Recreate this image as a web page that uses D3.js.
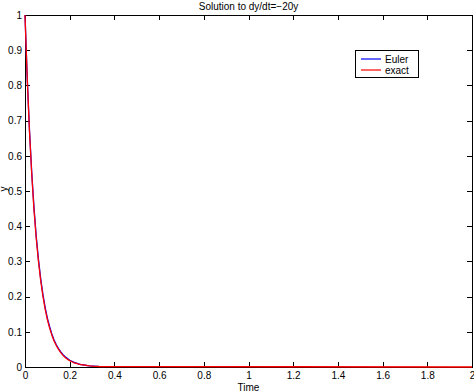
<!DOCTYPE html>
<html>
<head>
<meta charset="utf-8">
<script src="https://cdn.jsdelivr.net/npm/d3@7"></script>
<style>
  body { margin: 0; background: #fff; }
  svg { display: block; font-family: "Liberation Sans", Arial, sans-serif; }
  .c-axis path, .c-axis line { stroke: #000; shape-rendering: crispEdges; }
  .c-axis text { font-size: 10px; fill: #000; }
</style>
</head>
<body>
<div id="chart"></div>
<script>
// values
const exactT = [0, 0.01, 0.02, 0.03, 0.04, 0.05, 0.06, 0.07, 0.08, 0.09, 0.10, 0.11, 0.12,
  0.13, 0.14, 0.15, 0.16, 0.17, 0.18, 0.19, 0.20, 0.21, 0.22, 0.23, 0.24, 0.25, 0.26,
  0.27, 0.28, 0.29, 0.30, 0.31, 0.32, 0.33, 2];
const exactY = [1, 0.819, 0.670, 0.549, 0.449, 0.368, 0.301, 0.247, 0.202, 0.165, 0.135,
  0.111, 0.091, 0.074, 0.061, 0.050, 0.041, 0.033, 0.027, 0.022, 0.018, 0.015, 0.012,
  0.010, 0.008, 0.007, 0.006, 0.005, 0.004, 0.003, 0.0025, 0.002, 0.0017, 0.0014, 0];

const eulerT = [0, 0.01, 0.02, 0.03, 0.04, 0.05, 0.06, 0.07, 0.08, 0.09, 0.10, 0.11, 0.12,
  0.13, 0.14, 0.15, 0.16, 0.17, 0.18, 0.19, 0.20, 0.21, 0.22, 0.23, 0.24, 0.25, 0.26,
  0.27, 0.28, 0.29, 0.30, 0.31, 0.32, 0.33];
const eulerY = [1, 0.821, 0.674, 0.554, 0.455, 0.373, 0.307, 0.252, 0.207, 0.170, 0.139,
  0.115, 0.094, 0.077, 0.063, 0.052, 0.043, 0.035, 0.029, 0.024, 0.019, 0.016, 0.013,
  0.011, 0.009, 0.007, 0.006, 0.005, 0.004, 0.003, 0.0027, 0.0022, 0.0018, 0.0015];

const xTicks = [0, 0.2, 0.4, 0.6, 0.8, 1, 1.2, 1.4, 1.6, 1.8, 2];
const yTicks = [0, 0.1, 0.2, 0.3, 0.4, 0.5, 0.6, 0.7, 0.8, 0.9, 1];
const seriesNames = ['Euler', 'exact'];
const seriesColors = ['#0000ff', '#ff0000'];

const chartWidth = 474;
const chartHeight = 392;
const plotLeft = 25;
const plotRight = 472;
const plotTop = 15;
const plotBottom = 367;

const svg = d3.select('#chart')
  .append('svg')
  .attr('width', chartWidth)
  .attr('height', chartHeight);

const x = d3.scaleLinear().domain([0, 2]).range([plotLeft, plotRight]);
const y = d3.scaleLinear().domain([0, 1]).range([plotBottom, plotTop]);

// axes, ticks pointing inwards on all four sides
svg.append('g')
  .attr('class', 'c-axis')
  .attr('transform', 'translate(0,' + plotBottom + ')')
  .call(d3.axisBottom(x).tickValues(xTicks).tickSizeInner(-5).tickSizeOuter(0).tickPadding(5)
    .tickFormat(d3.format('')));

svg.append('g')
  .attr('class', 'c-axis')
  .attr('transform', 'translate(0,' + plotTop + ')')
  .call(d3.axisTop(x).tickValues(xTicks).tickSizeInner(-5).tickSizeOuter(0).tickFormat(''));

svg.append('g')
  .attr('class', 'c-axis')
  .attr('transform', 'translate(' + plotLeft + ',0)')
  .call(d3.axisLeft(y).tickValues(yTicks).tickSizeInner(-5).tickSizeOuter(0).tickPadding(3)
    .tickFormat(d3.format('')));

svg.append('g')
  .attr('class', 'c-axis')
  .attr('transform', 'translate(' + plotRight + ',0)')
  .call(d3.axisRight(y).tickValues(yTicks).tickSizeInner(-5).tickSizeOuter(0).tickFormat(''));

// curves
const line = d3.line()
  .x((d) => x(d[0]))
  .y((d) => y(d[1]));

svg.append('path')
  .datum(d3.zip(eulerT, eulerY))
  .attr('d', line)
  .attr('fill', 'none')
  .attr('stroke', seriesColors[0])
  .attr('stroke-width', 1.3);

svg.append('path')
  .datum(d3.zip(exactT, exactY))
  .attr('d', line)
  .attr('fill', 'none')
  .attr('stroke', seriesColors[1])
  .attr('stroke-width', 1.3);

// title and labels
svg.append('text')
  .attr('x', (plotLeft + plotRight) / 2)
  .attr('y', 10)
  .attr('text-anchor', 'middle')
  .attr('font-size', 10)
  .text('Solution to dy/dt=\u221220y');

svg.append('text')
  .attr('x', (plotLeft + plotRight) / 2)
  .attr('y', 391)
  .attr('text-anchor', 'middle')
  .attr('font-size', 10)
  .text('Time');

svg.append('text')
  .attr('transform', 'translate(7,189) rotate(-90)')
  .attr('text-anchor', 'middle')
  .attr('font-size', 10)
  .text('y');

// legend
const legend = svg.append('g').attr('transform', 'translate(355,50)');

legend.append('rect')
  .attr('width', 63)
  .attr('height', 27)
  .attr('fill', '#fff')
  .attr('stroke', '#000')
  .attr('shape-rendering', 'crispEdges');

seriesNames.forEach((name, i) => {
  legend.append('line')
    .attr('x1', 6)
    .attr('x2', 26)
    .attr('y1', 9 + i * 11)
    .attr('y2', 9 + i * 11)
    .attr('stroke', seriesColors[i])
    .attr('stroke-width', 1.2);

  legend.append('text')
    .attr('x', 30)
    .attr('y', 12.5 + i * 11)
    .attr('font-size', 10)
    .text(name);
});
</script>
</body>
</html>
